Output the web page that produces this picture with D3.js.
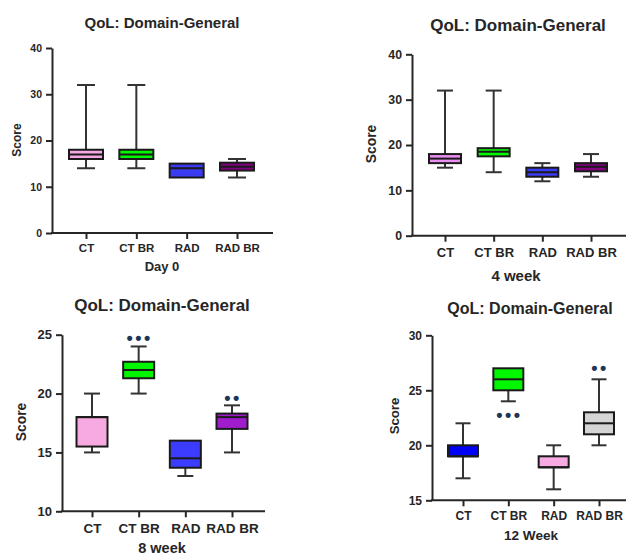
<!DOCTYPE html>
<html>
<head>
<meta charset="utf-8">
<script src="https://cdn.jsdelivr.net/npm/d3@7"></script>
<style>
  html, body { margin: 0; padding: 0; background: #fff; }
  svg { display: block; font-family: "Liberation Sans", Arial, sans-serif; }
</style>
</head>
<body>
<svg id="chart" width="626" height="556"></svg>
<script>
// ---------- DATA ----------
const categories = ["CT", "CT BR", "RAD", "RAD BR"];
const chartTitle = "QoL: Domain-General";
const xTitles = ["Day 0", "4 week", "8 week", "12 Week"];
const yLabel = "Score";

const day0Ticks = [0, 10, 20, 30, 40];
const day0Min = [14, 14, 12, 12];
const day0Q1  = [16, 16, 12, 13.5];
const day0Med = [17, 17, 14, 14.3];
const day0Q3  = [18, 18, 15, 15.2];
const day0Max = [32, 32, 15, 16];
const day0Colors = ["#f6a8e2", "#00f700", "#3b3bf2", "#800080"];

const week4Ticks = [0, 10, 20, 30, 40];
const week4Min = [15, 14, 12, 13];
const week4Q1  = [16, 17.5, 13, 14.2];
const week4Med = [17, 18.5, 14, 15.2];
const week4Q3  = [18, 19.3, 15, 16];
const week4Max = [32, 32, 16, 18];
const week4Colors = ["#ea8ef0", "#00f700", "#3b3bf2", "#800080"];

const week8Ticks = [10, 15, 20, 25];
const week8Min = [15, 20, 13, 15];
const week8Q1  = [15.5, 21.3, 13.7, 17];
const week8Med = [18, 22, 14.5, 18];
const week8Q3  = [18, 22.7, 16, 18.3];
const week8Max = [20, 24, 16, 19];
const week8Colors = ["#f7aae2", "#00f700", "#3c3cff", "#a01ccc"];
const week8Sig  = ["", "•••", "", "••"];
const week8SigY = [null, 24.7, null, 19.6];

const week12Ticks = [15, 20, 25, 30];
const week12Min = [17, 24, 16, 20];
const week12Q1  = [19, 25, 18, 21];
const week12Med = [19, 26, 18, 22];
const week12Q3  = [20, 27, 19, 23];
const week12Max = [22, 27, 20, 26];
const week12Colors = ["#0000f5", "#00f700", "#f7aae2", "#d4d4d4"];
const week12Sig  = ["", "•••", "", "••"];
const week12SigY = [null, 22.8, null, 27.0];

// ---------- LAYOUT ----------
const panels = [
  { title: chartTitle, xTitle: xTitles[0], ticks: day0Ticks, domain: [0, 40],
    min: day0Min, q1: day0Q1, med: day0Med, q3: day0Q3, max: day0Max, colors: day0Colors,
    sig: null, sigY: null,
    ax: 52, axEnd: 273, yB: 233, yT: 48, c0: 86, c1: 237, boxW: 34, capW: 18,
    titleX: 162, titleY: 28, titleSize: 15,
    xtX: 162, xtY: 271, xtSize: 13, catY: 252, catSize: 11.5, tickSize: 10.5,
    ytX: 16.5, ytY: 140, ytSize: 12 },
  { title: chartTitle, xTitle: xTitles[1], ticks: week4Ticks, domain: [0, 40],
    min: week4Min, q1: week4Q1, med: week4Med, q3: week4Q3, max: week4Max, colors: week4Colors,
    sig: null, sigY: null,
    ax: 412, axEnd: 626, yB: 235.7, yT: 54.3, c0: 445, c1: 591, boxW: 32, capW: 16,
    titleX: 518, titleY: 31, titleSize: 17,
    xtX: 516, xtY: 281, xtSize: 15, catY: 257, catSize: 13, tickSize: 12.3,
    ytX: 371.5, ytY: 144, ytSize: 13.8 },
  { title: chartTitle, xTitle: xTitles[2], ticks: week8Ticks, domain: [10, 25],
    min: week8Min, q1: week8Q1, med: week8Med, q3: week8Q3, max: week8Max, colors: week8Colors,
    sig: week8Sig, sigY: week8SigY,
    ax: 62, axEnd: 265, yB: 511.3, yT: 334.7, c0: 92, c1: 232, boxW: 31, capW: 16,
    titleX: 162, titleY: 311, titleSize: 17,
    xtX: 162, xtY: 553, xtSize: 14.5, catY: 533, catSize: 13.5, tickSize: 13,
    ytX: 21, ytY: 422, ytSize: 13.8 },
  { title: chartTitle, xTitle: xTitles[3], ticks: week12Ticks, domain: [15, 30],
    min: week12Min, q1: week12Q1, med: week12Med, q3: week12Q3, max: week12Max, colors: week12Colors,
    sig: week12Sig, sigY: week12SigY,
    ax: 432, axEnd: 626, yB: 500.3, yT: 335.3, c0: 463, c1: 599, boxW: 30, capW: 15,
    titleX: 530, titleY: 314, titleSize: 16,
    xtX: 531, xtY: 540, xtSize: 13.6, catY: 520, catSize: 12, tickSize: 12,
    ytX: 394, ytY: 416, ytSize: 13.2 }
];

const ink = "#262626";
const svg = d3.select("#chart");

panels.forEach(p => {
  const g = svg.append("g");
  const y = d3.scaleLinear().domain(p.domain).range([p.yB, p.yT]);
  const x = d3.scalePoint().domain(categories).range([p.c0, p.c1]);

  // title
  g.append("text").attr("x", p.titleX).attr("y", p.titleY)
    .attr("text-anchor", "middle").attr("font-weight", "bold")
    .attr("font-size", p.titleSize).attr("fill", ink).text(p.title);

  // y axis
  const ya = g.append("g").attr("transform", `translate(${p.ax},0)`)
    .call(d3.axisLeft(y).tickValues(p.ticks).tickSize(6).tickSizeOuter(0).tickPadding(4));
  ya.select(".domain").attr("stroke", ink).attr("stroke-width", 2);
  ya.selectAll(".tick line").attr("stroke", ink).attr("stroke-width", 2);
  ya.selectAll(".tick text").attr("font-size", p.tickSize).attr("font-weight", "bold")
    .attr("fill", ink).attr("font-family", "Liberation Sans, Arial, sans-serif");

  // x axis
  const xa = g.append("g").attr("transform", `translate(0,${p.yB})`)
    .call(d3.axisBottom(x).tickSize(6).tickSizeOuter(0).tickPadding(6));
  xa.select(".domain").remove();
  xa.append("line").attr("x1", p.ax - 1).attr("x2", p.axEnd).attr("y1", 0).attr("y2", 0)
    .attr("stroke", ink).attr("stroke-width", 2);
  xa.selectAll(".tick line").attr("stroke", ink).attr("stroke-width", 2);
  xa.selectAll(".tick text").attr("font-size", p.catSize).attr("font-weight", "bold")
    .attr("fill", ink).attr("font-family", "Liberation Sans, Arial, sans-serif")
    .attr("dy", null).attr("y", p.catY - p.yB);

  // axis titles
  g.append("text").attr("x", p.xtX).attr("y", p.xtY).attr("text-anchor", "middle")
    .attr("font-weight", "bold").attr("font-size", p.xtSize).attr("fill", ink).text(p.xTitle);
  g.append("text").attr("transform", `translate(${p.ytX},${p.ytY}) rotate(-90)`)
    .attr("text-anchor", "middle").attr("dominant-baseline", "central")
    .attr("font-weight", "bold").attr("font-size", p.ytSize).attr("fill", ink).text(yLabel);

  // boxes
  categories.forEach((c, i) => {
    const cx = x(c);
    const bg = g.append("g");
    bg.append("line").attr("x1", cx).attr("x2", cx).attr("y1", y(p.max[i])).attr("y2", y(p.q3[i]))
      .attr("stroke", "#333").attr("stroke-width", 2);
    bg.append("line").attr("x1", cx).attr("x2", cx).attr("y1", y(p.q1[i])).attr("y2", y(p.min[i]))
      .attr("stroke", "#333").attr("stroke-width", 2);
    [p.max[i], p.min[i]].forEach(v => {
      if (v !== p.q3[i] && v !== p.q1[i]) {
        bg.append("line").attr("x1", cx - p.capW / 2).attr("x2", cx + p.capW / 2)
          .attr("y1", y(v)).attr("y2", y(v)).attr("stroke", "#333").attr("stroke-width", 2);
      }
    });
    bg.append("rect").attr("x", cx - p.boxW / 2).attr("width", p.boxW)
      .attr("y", y(p.q3[i])).attr("height", y(p.q1[i]) - y(p.q3[i]))
      .attr("fill", p.colors[i]).attr("stroke", "#1a1a1a").attr("stroke-width", 2);
    bg.append("line").attr("x1", cx - p.boxW / 2).attr("x2", cx + p.boxW / 2)
      .attr("y1", y(p.med[i])).attr("y2", y(p.med[i]))
      .attr("stroke", "#1a1a1a").attr("stroke-width", 2);
    if (p.sig && p.sig[i]) {
      bg.append("text").attr("x", cx + 1).attr("y", y(p.sigY[i]))
        .attr("text-anchor", "middle").attr("dominant-baseline", "central")
        .attr("font-size", 18).attr("font-weight", "bold").attr("letter-spacing", 2.5)
        .attr("fill", "#1d3557").text(p.sig[i]);
    }
  });
});
</script>
</body>
</html>
